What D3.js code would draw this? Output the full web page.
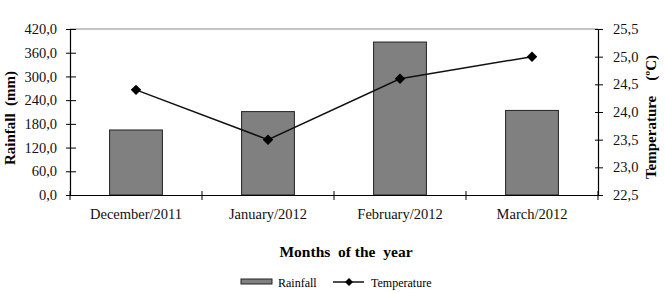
<!DOCTYPE html>
<html>
<head>
<meta charset="utf-8">
<script src="https://cdn.jsdelivr.net/npm/d3@7"></script>
<style>
  body { margin: 0; background: #fff; }
  text { font-family: "Liberation Serif", "Times New Roman", serif; fill: #000; }
</style>
</head>
<body>
<div id="chart"></div>
<script>
// chart data
var months = ["December/2011", "January/2012", "February/2012", "March/2012"]
var rainfall = [164.5, 211, 387, 214]
var temperature = [24.4, 23.5, 24.6, 25.0]
var rainTicks = [0, 60, 120, 180, 240, 300, 360, 420]
var tempTicks = [22.5, 23.0, 23.5, 24.0, 24.5, 25.0, 25.5]

const width = 665
const height = 293
const plotLeft = 70, plotRight = 598, plotTop = 29, plotBottom = 195

const svg = d3.select("#chart").append("svg")
  .attr("width", width)
  .attr("height", height)

const x = d3.scaleBand()
  .domain(months)
  .range([plotLeft, plotRight])
  .paddingInner(0.6)
  .paddingOuter(0.3)

const yRain = d3.scaleLinear().domain([0, 420]).range([plotBottom, plotTop])
const yTemp = d3.scaleLinear().domain([22.5, 25.5]).range([plotBottom, plotTop])

const fmt = function(d) { return d3.format(".1f")(d).replace(".", ",") }

// top frame line
svg.append("line")
  .attr("x1", plotLeft).attr("x2", plotRight)
  .attr("y1", plotTop).attr("y2", plotTop)
  .style("stroke", "#888")
  .style("stroke-width", 1)

// bars
var rows = months.map(function(m, i) { return { month: m, rain: rainfall[i], temp: temperature[i] } })

svg.selectAll("rect.bar")
  .data(rows)
  .enter()
  .append("rect")
  .attr("class", "bar")
  .attr("x", function(d) { return x(d.month) })
  .attr("width", x.bandwidth())
  .attr("y", function(d) { return yRain(d.rain) })
  .attr("height", function(d) { return plotBottom - yRain(d.rain) })
  .style("fill", "#808080")
  .style("stroke", "#222")
  .style("stroke-width", 1)

// left axis
const gl = svg.append("g")
  .attr("transform", "translate(" + plotLeft + ",0)")
  .call(d3.axisLeft(yRain).tickValues(rainTicks).tickFormat(fmt).tickSize(4).tickPadding(9))
gl.selectAll(".tick line").attr("x1", 6).attr("x2", -4)

// right axis
const gr = svg.append("g")
  .attr("transform", "translate(" + plotRight + ",0)")
  .call(d3.axisRight(yTemp).tickValues(tempTicks).tickFormat(fmt).tickSize(5).tickPadding(10))
gr.selectAll(".tick line").attr("x1", -3).attr("x2", 5)

// bottom axis, ticks sit between categories
const gb = svg.append("g")
  .attr("transform", "translate(0," + plotBottom + ")")
  .call(d3.axisBottom(x).tickSize(0).tickPadding(14))
gb.selectAll(".tick text").attr("dy", "0.71em")

var bounds = d3.range(months.length + 1).map(function(i) { return plotLeft + i * x.step() })
gb.selectAll("line.sep")
  .data(bounds)
  .enter()
  .append("line")
  .attr("class", "sep")
  .attr("x1", function(d) { return d }).attr("x2", function(d) { return d })
  .attr("y1", -4).attr("y2", 5)
  .style("stroke", "#000")

;[gl, gr, gb].forEach(function(g) {
  g.select(".domain").style("stroke", "#000").style("stroke-width", 1.2)
  g.selectAll(".tick line").style("stroke", "#000")
  g.selectAll("text").style("font-family", "Liberation Serif").style("font-size", "14.5px").style("fill", "#111")
})

// temperature line
const line = d3.line()
  .x(function(d) { return x(d.month) + x.bandwidth() / 2 })
  .y(function(d) { return yTemp(d.temp) })

svg.append("path")
  .datum(rows)
  .attr("d", line)
  .style("fill", "none")
  .style("stroke", "#111")
  .style("stroke-width", 1.5)

svg.selectAll("path.marker")
  .data(rows)
  .enter()
  .append("path")
  .attr("class", "marker")
  .attr("d", d3.symbol().type(d3.symbolDiamond2).size(70))
  .attr("transform", function(d) { return "translate(" + (x(d.month) + x.bandwidth() / 2) + "," + yTemp(d.temp) + ")" })
  .style("fill", "#000")

// axis titles
svg.append("text")
  .attr("transform", "translate(15,118) rotate(-90)")
  .attr("text-anchor", "middle")
  .style("font-size", "15px")
  .style("font-weight", "bold")
  .style("white-space", "pre")
  .text("Rainfall  (mm)")

svg.append("text")
  .attr("transform", "translate(656,117) rotate(-90)")
  .attr("text-anchor", "middle")
  .style("font-size", "15px")
  .style("font-weight", "bold")
  .style("white-space", "pre")
  .text("Temperature    (ºC)")

svg.append("text")
  .attr("x", 346)
  .attr("y", 257)
  .attr("text-anchor", "middle")
  .style("font-size", "15.5px")
  .style("font-weight", "bold")
  .style("white-space", "pre")
  .text("Months  of the  year")

// legend
const lg = svg.append("g")
lg.append("rect")
  .attr("x", 241).attr("y", 279)
  .attr("width", 31).attr("height", 5)
  .style("fill", "#808080")
  .style("stroke", "#222")
lg.append("text")
  .attr("x", 278).attr("y", 287)
  .style("font-size", "12px")
  .text("Rainfall")
lg.append("line")
  .attr("x1", 333).attr("x2", 364)
  .attr("y1", 282).attr("y2", 282)
  .style("stroke", "#111")
  .style("stroke-width", 1.5)
lg.append("path")
  .attr("d", d3.symbol().type(d3.symbolDiamond2).size(40))
  .attr("transform", "translate(349,282)")
  .style("fill", "#000")
lg.append("text")
  .attr("x", 371).attr("y", 287)
  .style("font-size", "12px")
  .text("Temperature")
</script>
</body>
</html>
